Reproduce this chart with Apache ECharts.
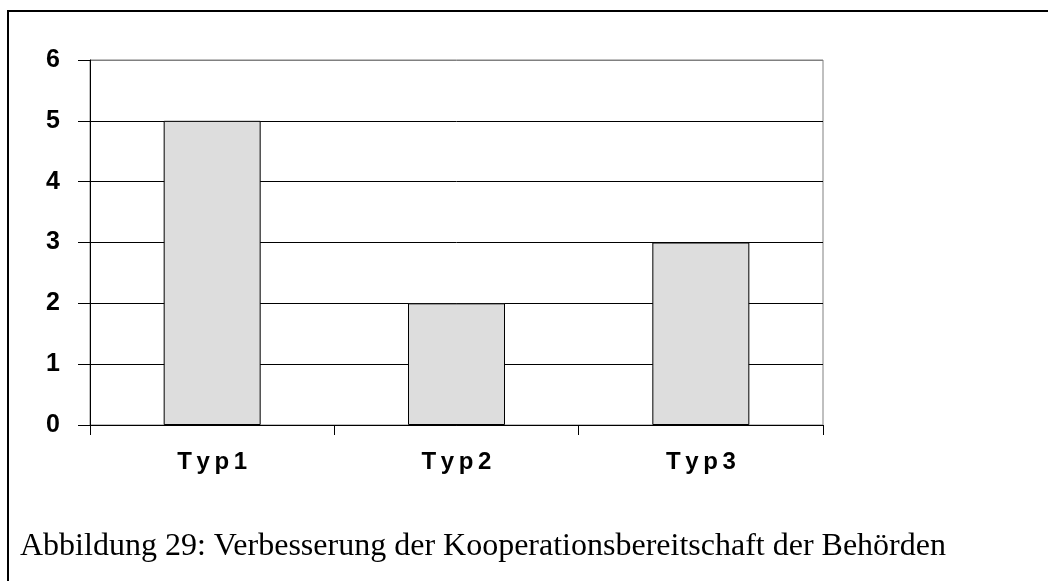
<!DOCTYPE html>
<html>
<head>
<meta charset="utf-8">
<script src="https://cdn.jsdelivr.net/npm/echarts@6/dist/echarts.min.js"></script>
<style>
  html, body { margin: 0; padding: 0; background: #fff; }
  #chart { width: 1048px; height: 581px; }
</style>
</head>
<body>
<div id="chart"></div>
<script>
// Daten
var categories = ['Typ1', 'Typ2', 'Typ3'];
var values = [5, 2, 3];
var yTicks = [0, 1, 2, 3, 4, 5, 6];
var caption = 'Abbildung 29: Verbesserung der Kooperationsbereitschaft der Behörden';

var myChart = echarts.init(document.getElementById('chart'));

// gesperrte Schrift fuer die Kategorien (letter spacing)
function spaced(v) {
  return v.split('').map(function (c) { return '{c|' + c + '}'; }).join('');
}

var option = {
  backgroundColor: '#ffffff',
  animation: false,
  grid: {
    left: 90, right: 225, top: 60, bottom: 156,
    show: true, borderColor: '#808080', borderWidth: 1, backgroundColor: 'transparent'
  },
  xAxis: {
    type: 'category',
    data: categories,
    axisLine: { lineStyle: { color: '#000', width: 1 } },
    axisTick: { show: true, interval: 0, length: 10, lineStyle: { color: '#000' } },
    axisLabel: {
      interval: 0,
      hideOverlap: false,
      margin: 25,
      formatter: spaced,
      rich: {
        c: {
          color: '#000', fontFamily: 'Liberation Sans, Arial', fontWeight: 'bold',
          fontSize: 24, padding: [0, 2.3]
        }
      }
    }
  },
  yAxis: {
    type: 'value',
    min: yTicks[0], max: yTicks[yTicks.length - 1], interval: 1,
    axisLine: { show: true, lineStyle: { color: '#000', width: 1 } },
    axisTick: { show: true, length: 12, lineStyle: { color: '#000' } },
    axisLabel: {
      color: '#000', fontFamily: 'Liberation Sans, Arial', fontWeight: 'bold',
      fontSize: 25, margin: 30
    },
    splitLine: {
      show: true,
      lineStyle: { color: ['#000', '#000', '#000', '#000', '#000', '#000', '#808080'], width: 1 }
    }
  },
  series: [{
    type: 'bar',
    data: values,
    barWidth: 97,
    itemStyle: { color: '#dddddd', borderColor: '#000', borderWidth: 1 }
  }],
  graphic: [
    {
      type: 'polyline',
      shape: { points: [[8, 581], [8, 11], [1048, 11]] },
      style: { stroke: '#000', lineWidth: 2, fill: null }
    },
    {
      type: 'text',
      left: 20, top: 531,
      style: {
        text: caption,
        fill: '#000',
        font: '32px "Liberation Serif", "Times New Roman", serif'
      }
    }
  ]
};

myChart.setOption(option);
</script>
</body>
</html>
